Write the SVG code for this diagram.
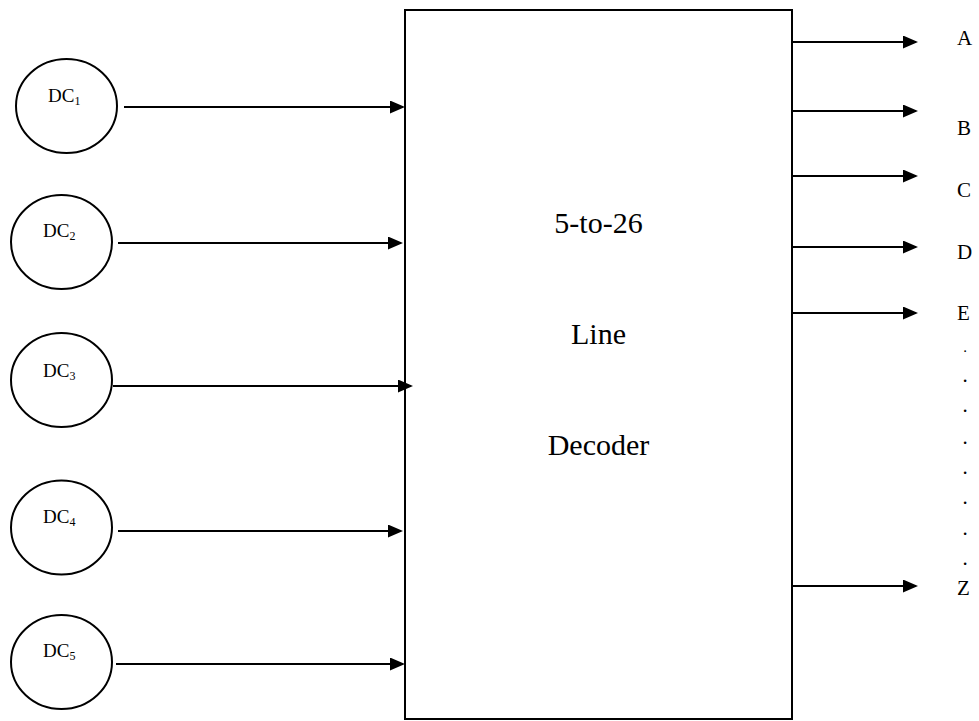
<svg xmlns="http://www.w3.org/2000/svg" width="979" height="721" viewBox="0 0 979 721">
<style>
.sh{fill:none;stroke:#000;stroke-width:2}
.ln{stroke:#000;stroke-width:2;fill:none;marker-end:url(#ah)}
.t{font-family:"Liberation Serif","Times New Roman",serif;fill:#000}
.dc{font-size:19px}
.sub{font-size:12px}
.out{font-size:21px}
.big{font-size:30px;text-anchor:middle}
.dot{font-size:21px;text-anchor:middle}
</style>
<defs>
<marker id="ah" markerUnits="userSpaceOnUse" markerWidth="16" markerHeight="14" refX="13" refY="6.5" orient="auto">
<path d="M0,0 L15,6.5 L0,13 Z" fill="#000"/>
</marker>
</defs>
<rect width="979" height="721" fill="#fff"/>
<g id="decoder">
<rect class="sh" x="405" y="10" width="387" height="709"/>
<text class="t big" x="598.5" y="233">5-to-26</text>
<text class="t big" x="598.5" y="344">Line</text>
<text class="t big" x="598.5" y="455">Decoder</text>
</g>
<g id="dc1">
<ellipse class="sh" cx="66.5" cy="106" rx="50.5" ry="47"/>
<text class="t dc" x="48" y="102">DC<tspan class="sub" dy="3">1</tspan></text>
</g>
<g id="dc2">
<ellipse class="sh" cx="61.5" cy="242" rx="50.5" ry="47"/>
<text class="t dc" x="43" y="237">DC<tspan class="sub" dy="3">2</tspan></text>
</g>
<g id="dc3">
<ellipse class="sh" cx="61.5" cy="380" rx="50.5" ry="47"/>
<text class="t dc" x="43" y="377">DC<tspan class="sub" dy="3">3</tspan></text>
</g>
<g id="dc4">
<ellipse class="sh" cx="61.5" cy="527.5" rx="50.5" ry="47"/>
<text class="t dc" x="43" y="523">DC<tspan class="sub" dy="3">4</tspan></text>
</g>
<g id="dc5">
<ellipse class="sh" cx="61.5" cy="662" rx="50.5" ry="47"/>
<text class="t dc" x="43" y="657">DC<tspan class="sub" dy="3">5</tspan></text>
</g>
<g id="outputs">
<text class="t out" x="957" y="45">A</text>
<text class="t out" x="957" y="135">B</text>
<text class="t out" x="957" y="197">C</text>
<text class="t out" x="957" y="259">D</text>
<text class="t out" x="957" y="320">E</text>
<text class="t out" x="957" y="595">Z</text>
<text class="t dot" x="965" y="352" style="font-size:15px">.</text>
<text class="t dot" x="965" y="382">.</text>
<text class="t dot" x="965" y="412">.</text>
<text class="t dot" x="965" y="444">.</text>
<text class="t dot" x="965" y="474">.</text>
<text class="t dot" x="965" y="504">.</text>
<text class="t dot" x="965" y="535">.</text>
<text class="t dot" x="965" y="565">.</text>
</g>
<g id="connectors">
<line class="ln" x1="124" y1="107" x2="403" y2="107"/>
<line class="ln" x1="118" y1="243" x2="401" y2="243"/>
<line class="ln" x1="113" y1="386" x2="411" y2="386"/>
<line class="ln" x1="118" y1="531" x2="401" y2="531"/>
<line class="ln" x1="116" y1="664" x2="403" y2="664"/>
<line class="ln" x1="792" y1="42" x2="916" y2="42"/>
<line class="ln" x1="792" y1="111" x2="916" y2="111"/>
<line class="ln" x1="792" y1="176" x2="916" y2="176"/>
<line class="ln" x1="792" y1="247" x2="916" y2="247"/>
<line class="ln" x1="792" y1="313" x2="916" y2="313"/>
<line class="ln" x1="792" y1="586" x2="916" y2="586"/>
</g>
</svg>
